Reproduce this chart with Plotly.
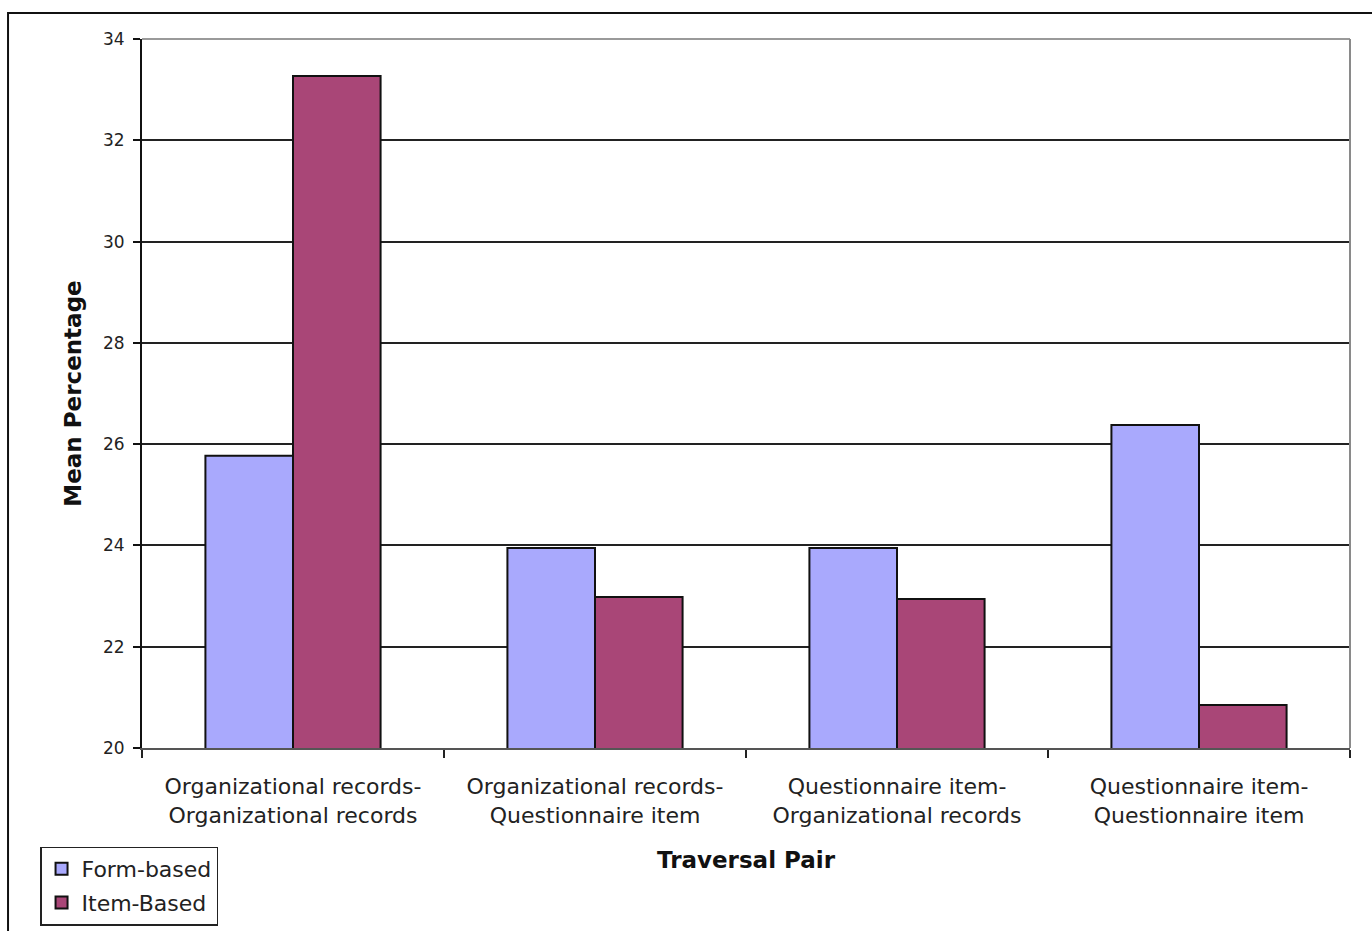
import plotly.graph_objects as go

# Traversal pairs on the x axis
categories = [
    "Organizational records-<br>Organizational records",
    "Organizational records-<br>Questionnaire item",
    "Questionnaire item-<br>Organizational records",
    "Questionnaire item-<br>Questionnaire item",
]
form_based = [25.77, 23.95, 23.95, 26.38]
item_based = [33.27, 22.98, 22.94, 20.85]
y_ticks = [20, 22, 24, 26, 28, 30, 32, 34]

FONT = "DejaVu Sans"

fig = go.Figure()
fig.add_trace(go.Bar(
    name="Form-based", x=categories, y=form_based, legendgroup="form",
    marker=dict(color="#A9A9FD", line=dict(color="#111111", width=2)),
))
fig.add_trace(go.Bar(
    name="Item-Based", x=categories, y=item_based, legendgroup="item",
    marker=dict(color="#A94677", line=dict(color="#111111", width=2)),
))

fig.update_layout(
    width=1372, height=931,
    margin=dict(l=142, r=22, t=39, b=183, autoexpand=False),
    paper_bgcolor="white", plot_bgcolor="white",
    barmode="group", bargap=0.42, bargroupgap=0,
    font=dict(family=FONT, color="#222222"),
    showlegend=True,
    legend=dict(
        x=-0.0844, y=-0.139, xanchor="left", yanchor="top",
        bordercolor="#222222", borderwidth=1.5, bgcolor="white",
        font=dict(family=FONT, size=22, color="#222222"),
        tracegroupgap=2, itemsizing="constant", itemwidth=30,
    ),
)

fig.update_yaxes(
    range=[20, 34], tickvals=y_ticks, ticktext=[str(v) for v in y_ticks],
    automargin=False,
    showgrid=True, gridcolor="#222222", gridwidth=2,
    showline=True, linecolor="#111111", linewidth=2,
    ticks="outside", ticklen=7, tickwidth=2, tickcolor="#111111",
    ticklabelstandoff=5,
    tickfont=dict(family=FONT, size=17, color="#222222"),
    zeroline=False,
    title=dict(text="<b>Mean Percentage</b>", standoff=15,
               font=dict(family=FONT, size=23, color="#111111")),
)
fig.update_xaxes(
    type="category", tickson="boundaries", automargin=False,
    showline=True, linecolor="#555555", linewidth=2,
    ticks="outside", ticklen=8, tickwidth=2, tickcolor="#222222",
    ticklabelstandoff=18,
    tickfont=dict(family=FONT, size=22, color="#222222"),
    showgrid=False,
    title=dict(text="<b>Traversal Pair</b>", standoff=25,
               font=dict(family=FONT, size=23, color="#111111")),
)

# gray plot-area frame on the top and right sides
fig.add_shape(type="line", xref="paper", yref="paper", x0=0, x1=1, y0=1, y1=1,
              line=dict(color="#9a9a9a", width=2), layer="above")
fig.add_shape(type="line", xref="paper", yref="paper", x0=1, x1=1, y0=0, y1=1,
              line=dict(color="#8a8a8a", width=2), layer="above")

# outer chart border
fig.add_shape(type="rect", xref="paper", yref="paper",
              x0=-0.1109, x1=1.2, y0=-0.4, y1=1.0367,
              line=dict(color="#111111", width=2), layer="below")

fig.write_html("out.html")
